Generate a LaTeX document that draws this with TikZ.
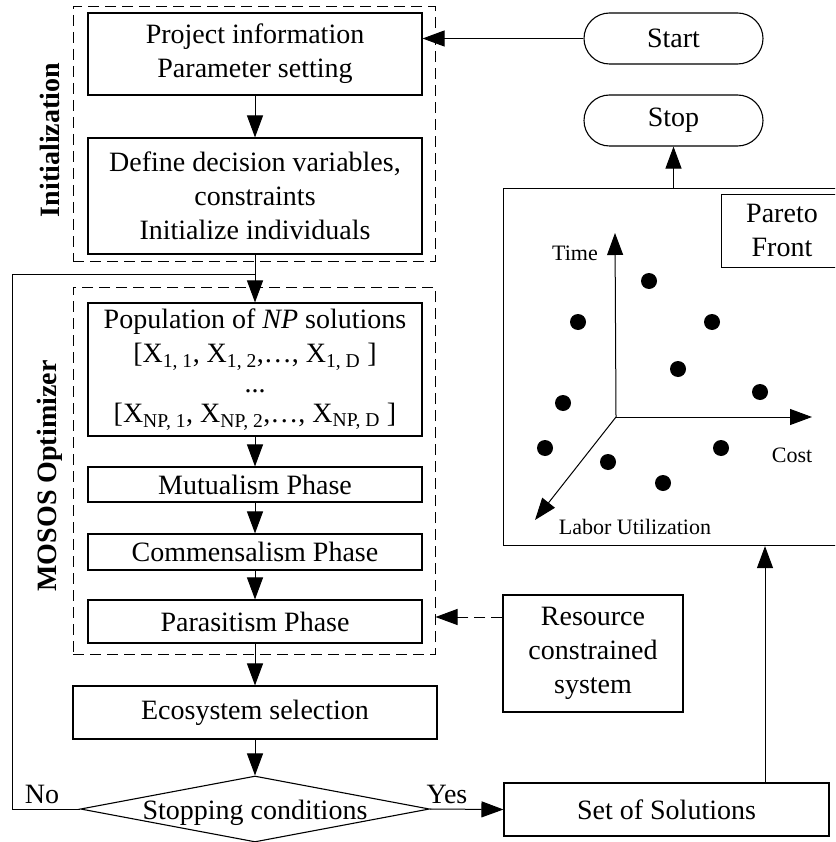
\documentclass[tikz,border=0pt]{standalone}
\usepackage{fontspec}
\setmainfont{Liberation Serif}
\usetikzlibrary{arrows.meta,shapes.geometric,shapes.misc}
\begin{document}
\begin{tikzpicture}[x=1pt,y=-1pt,
  font=\fontsize{28}{34}\selectfont,
  box/.style={draw, line width=1.1pt, inner sep=0pt, align=center},
  term/.style={draw, line width=1.1pt, rounded rectangle, inner sep=0pt, minimum width=179pt, minimum height=51pt},
  arr/.style={-{Triangle[length=22pt,width=16pt]}, line width=1pt},
  dbox/.style={draw, dash pattern=on 11pt off 6pt, line width=1pt, inner sep=0pt},
  small/.style={font=\fontsize{22}{26}\selectfont},
  dot/.style={fill=black}]
\useasboundingbox (0,0) rectangle (835,842);
\clip (0,0) rectangle (835,842);
% dashed groups
\node[dbox, minimum width=362pt, minimum height=254pt] (init) at (254,134) {};
\node[dbox, minimum width=362pt, minimum height=367pt] (mosos) at (254,470.5) {};
\node[font=\fontsize{28}{34}\selectfont\bfseries, rotate=90] (initlab) at (50,140) {Initialization};
\node[font=\fontsize{28}{34}\selectfont\bfseries, rotate=90] (moslab) at (50,476) {MOSOS Optimizer};
% left column
\node[box, minimum width=334pt, minimum height=82pt] (b1) at (255,54) {Project information\\Parameter setting};
\node[box, minimum width=334pt, minimum height=116pt] (b2) at (255,196) {Define decision variables,\\constraints\\Initialize individuals};
\node[box, minimum width=334pt, minimum height=133pt] (b3) at (255,369.5) {Population of \textit{NP} solutions\\
  {[}X\textsubscript{1, 1}, X\textsubscript{1, 2},\dots, X\textsubscript{1, D} ]\\[-4pt]
  ...\\[-4pt]
  {[}X\textsubscript{NP, 1}, X\textsubscript{NP, 2},\dots, X\textsubscript{NP, D} ]};
\node[box, minimum width=334pt, minimum height=35pt] (mut) at (255,484.5) {Mutualism Phase};
\node[box, minimum width=334pt, minimum height=36pt] (com) at (255,552) {Commensalism Phase};
\node[box, minimum width=334pt, minimum height=43pt] (par) at (255,621.5) {Parasitism Phase};
\node[box, minimum width=364pt, minimum height=53pt] (eco) at (255,712.5) {Ecosystem selection};
\node[draw, line width=1.1pt, diamond, inner sep=0pt, minimum width=349pt, minimum height=66pt] (dia) at (255,809) {};
\node[yshift=-4pt] (diatext) at (dia) {Stopping conditions};
% right column
\node[term] (start) at (673.5,38.5) {Start};
\node[term] (stop) at (673.5,120.5) {Stop};
\node[box, anchor=north west, minimum width=345pt, minimum height=357pt] (pareto) at (503,188) {};
\node[box, anchor=north west, minimum width=124pt, minimum height=73pt] (pfbox) at (721,194) {};
\node[align=center] (pflab) at (782,230.5) {Pareto\\Front};
\node[box, minimum width=180pt, minimum height=117pt] (res) at (593,653.5) {Resource\\constrained\\system};
\node[box, minimum width=325pt, minimum height=53pt] (sos) at (666.5,809.5) {Set of Solutions};
% labels
\node (no) at (42,794) {No};
\node (yes) at (447,794) {Yes};
% axes
\coordinate (o) at (616,417);
\coordinate (tt) at (615,233);
\coordinate (ct) at (812,417);
\coordinate (lt) at (535,520);
\draw[arr] (o) -- (tt);
\draw[arr] (o) -- (ct);
\draw[arr] (o) -- (lt);
\node[small] (tlab) at (575,253) {Time};
\node[small] (clab) at (792,455) {Cost};
\node[small] (llab) at (635,527) {Labor Utilization};
\foreach \p in {(649,281),(578,322),(712,322),(678,369),(760,392),(563,403),(545,448),(608,462),(721,448),(663,483)}
  \fill \p circle (8pt);
% connectors
\draw[arr] (start.west) -- (start.west -| b1.east);
\draw[arr] (b1) -- (b2);
\draw[arr] (b2) -- (b3);
\draw[arr] (b3) -- (mut);
\draw[arr] (mut) -- (com);
\draw[arr] (com) -- (par);
\draw[arr] (par) -- (eco);
\draw[arr] (eco) -- (dia);
\draw[arr] (dia.east) -- (sos.west);
\coordinate (lx) at (12,0);
\coordinate (loopj) at (255,274);
\draw[line width=1pt] (dia.west) -- (dia.west -| lx) |- (loopj);
\coordinate (upx) at (765,0);
\draw[arr] (sos.north -| upx) -- (pareto.south -| upx);
\draw[arr] (pareto.north -| stop.south) -- (stop.south);
\coordinate (resy) at (0,617);
\draw[arr, dash pattern=on 11pt off 6pt] (res.west |- resy) -- (mosos.east |- resy);
\end{tikzpicture}
\end{document}
